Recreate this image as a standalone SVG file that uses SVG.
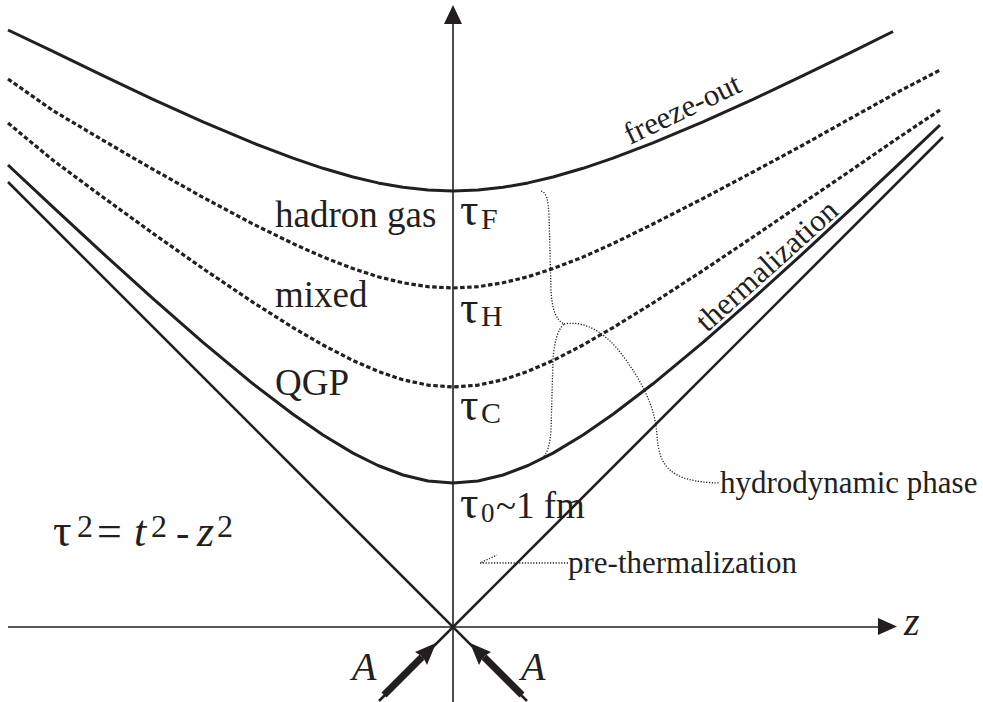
<svg xmlns="http://www.w3.org/2000/svg" width="983" height="702" viewBox="0 0 983 702">
<style>
.bg{fill:#ffffff}
.axis{stroke:#231f20;stroke-width:1.6;fill:none}
.cone{stroke:#231f20;stroke-width:2.6;fill:none}
.solid{stroke:#231f20;stroke-width:3;fill:none;stroke-linejoin:round}
.dash{stroke:#231f20;stroke-width:3.2;fill:none;stroke-dasharray:4.5 2.5}
.dot{stroke:#231f20;stroke-width:1.3;fill:none;stroke-dasharray:1.2 1.6}
.head{fill:#231f20}
.shaft{stroke:#231f20;stroke-width:7;fill:none}
.t{font-family:"Liberation Serif","Times New Roman",serif;fill:#231f20}
.it{font-style:italic}
</style>
<rect class="bg" x="0" y="0" width="983" height="702"/>
<g id="axes">
  <line class="axis" x1="453" y1="22" x2="453" y2="702"/>
  <polygon class="head" points="453,5 444,24 462,24"/>
  <line class="axis" x1="8" y1="627" x2="882" y2="627"/>
  <polygon class="head" points="897,626.5 878,618 878,635"/>
  <text class="t it" x="904" y="635" font-size="40">z</text>
</g>
<g id="connectors">
  <line class="cone" x1="8" y1="182" x2="527" y2="701"/>
  <line class="cone" x1="943" y1="137" x2="379" y2="701"/>
  <path id="freeze-out-curve" class="solid" d="M8,30 L53,51.3 L103,75.7 L153,99.3 L203,121.9 L253,142.9 L293,158.2 L323,168.3 L353,177 L378,182.9 L403,187.3 L428,190.1 L453,191 L478,190.1 L503,187.3 L528,182.9 L553,177 L583,168.3 L613,158.2 L653,142.9 L703,121.9 L753,99.3 L803,75.7 L853,51.3 L893,31.5"/>
  <path id="hadron-curve" class="dash" d="M8,79 L53,110.6 L103,140.3 L153,169.3 L203,197.4 L253,224 L293,243.6 L323,257 L353,268.6 L378,276.7 L403,282.8 L428,286.7 L453,288 L478,286.7 L503,282.8 L528,276.7 L553,268.6 L583,257 L613,243.6 L653,224 L703,198.5 L753,172 L803,145 L853,117 L898,92 L940,70"/>
  <path id="critical-curve" class="dash" d="M8,123 L53,160.3 L103,197.2 L153,233.4 L203,268.6 L253,302.3 L293,327.6 L323,345 L353,360.5 L378,371.3 L403,379.8 L428,385.1 L453,387 L478,385.1 L503,379.8 L528,371.3 L553,360.5 L583,345 L613,327.6 L653,303 L703,270.5 L753,237 L803,203 L853,169 L898,138 L940,110"/>
  <path id="tau0-curve" class="solid" d="M8,165 L53,207.1 L103,253.4 L153,298.7 L203,342.4 L253,383.8 L293,414.3 L323,435 L353,453.1 L378,465.5 L403,475 L428,481 L453,483 L478,481 L503,475 L528,465.5 L553,453.1 L583,435 L613,414.3 L653,383.8 L703,342.4 L753,298.7 L803,253.4 L853,207.1 L898,164.8 L940,125"/>
  <path id="brace" class="dot" d="M541,191 C547,193 548,200 549,215 L551,290 C552,310 556,320 564,324 C557,330 554,345 553,360 L551,430 C550,445 547,455 542,458"/>
  <path id="hydro-leader" class="dot" d="M564,324 C585,320 605,333 620,352 C640,378 655,405 657,435 C659,465 668,482 720,483"/>
  <path id="prethermal-leader" class="dot" d="M568,563 L480,563 L497,555"/>
</g>
<g id="beam-left">
  <line class="shaft" x1="384" y1="695" x2="422" y2="657"/>
  <polygon class="head" points="436,643 427,665 423,657 415,652"/>
  <text class="t it" x="352" y="680" font-size="40">A</text>
</g>
<g id="beam-right">
  <line class="shaft" x1="522" y1="695" x2="484" y2="657"/>
  <polygon class="head" points="470,643 479,665 483,657 491,652"/>
  <text class="t it" x="521" y="680" font-size="40">A</text>
</g>
<g id="phase-labels">
  <text class="t" x="275" y="227" font-size="37">hadron gas</text>
  <text class="t" x="275" y="307" font-size="37">mixed</text>
  <text class="t" x="275" y="395" font-size="37">QGP</text>
</g>
<g id="tau-labels">
  <text class="t" x="460" y="225" font-size="46">τ<tspan x="481" y="229" font-size="30">F</tspan></text>
  <text class="t" x="460" y="323" font-size="46">τ<tspan x="481" y="326" font-size="30">H</tspan></text>
  <text class="t" x="460" y="420" font-size="46">τ<tspan x="481" y="423" font-size="30">C</tspan></text>
  <text class="t" x="460" y="518" font-size="46">τ<tspan x="481" y="522" font-size="27">0</tspan><tspan x="496" y="518" font-size="37">~1 fm</tspan></text>
</g>
<g id="equation">
  <text class="t" x="53" y="546" font-size="46">τ<tspan x="77" y="537" font-size="32">2</tspan><tspan x="97" y="546" font-size="44">=</tspan><tspan class="it" x="134" y="546" font-size="44">t</tspan><tspan x="151" y="537" font-size="32">2</tspan><tspan x="176" y="546" font-size="40">-</tspan><tspan class="it" x="197" y="546" font-size="44">z</tspan><tspan x="217" y="537" font-size="32">2</tspan></text>
</g>
<g id="curve-labels">
  <text class="t" x="630" y="145" font-size="31" transform="rotate(-25.5 630 145)">freeze-out</text>
  <text class="t" x="707" y="333" font-size="31" transform="rotate(-42 707 333)">thermalization</text>
  <text class="t" x="720" y="493" font-size="31">hydrodynamic phase</text>
  <text class="t" x="568" y="573" font-size="31">pre-thermalization</text>
</g>
</svg>
